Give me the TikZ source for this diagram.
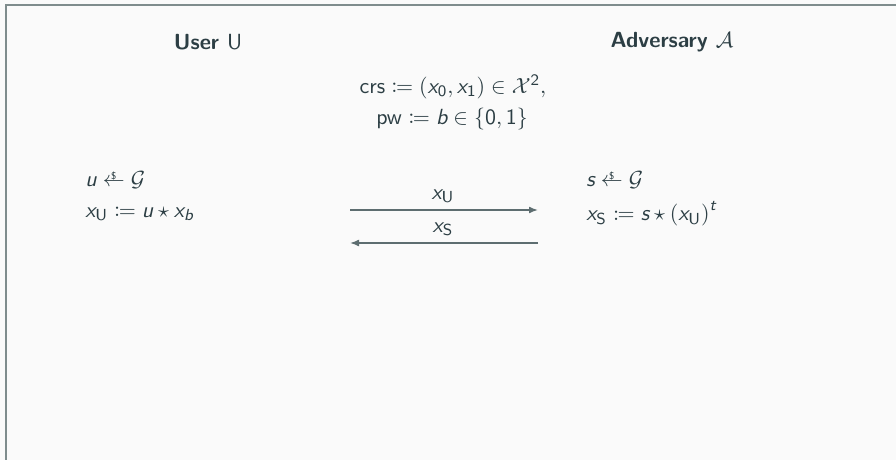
\documentclass[tikz,border=0pt,11pt]{standalone}
\usepackage{amsmath,amssymb,mathtools}
\usetikzlibrary{arrows.meta}
\definecolor{bg}{HTML}{FAFAFA}
\definecolor{fr}{HTML}{7F8C8D}
\definecolor{tx}{HTML}{2C3E44}
\definecolor{ar}{HTML}{5D6D70}
\newcommand{\vx}[1]{\text{\sffamily\itshape #1}}
\newcommand{\samp}{\mathrel{\ooalign{$\leftarrow$\cr\hidewidth\raisebox{0.75ex}{\fontsize{5}{5}\selectfont\$}\hidewidth\cr}}}
\begin{document}
\begin{tikzpicture}[x=0.5pt,y=-0.5pt,
  every node/.style={text=tx, font=\sffamily, inner sep=0pt},
  lbl/.style={anchor=west},
  msg/.style={draw=ar, line width=0.75pt, -{Latex[length=4.5pt,width=3.5pt]}}]
\useasboundingbox (0,0) rectangle (896,460);
\fill[bg] (0,0) rectangle (896,460);
\draw[fr, line width=1pt] (5.5,470) -- (5.5,5.5) -- (910,5.5);

\node (user) at (208,42) {\bfseries User \mdseries$\mathsf{U}$};
\node (adv) at (672,42) {\bfseries Adversary \mdseries$\mathcal{A}$};

\node (crs) at (453,87) {$\mathsf{crs} \coloneqq (\vx{x}_{\mathsf0}, \vx{x}_{\mathsf1}) \in \mathcal{X}^{\mathsf2},$};
\node (pw) at (452,119) {$\mathsf{pw} \coloneqq \vx{b} \in \{\mathsf{0},\mathsf{1}\}$};

\node[lbl] (u1) at (85,180) {$\vx{u} \samp \mathcal{G}$};
\node[lbl] (u2) at (85,214) {$\vx{x}_{\mathsf U} \coloneqq \vx{u} \star \vx{x}_{\vx{b}}$};

\node[lbl] (s1) at (586,180) {$\vx{s} \samp \mathcal{G}$};
\node[lbl] (s2) at (586,214) {$\vx{x}_{\mathsf S} \coloneqq \vx{s} \star \left(\vx{x}_{\mathsf U}\right)^{\vx{t}}$};

\coordinate (a1s) at (350,210);
\coordinate (a1e) at (538,210);
\coordinate (a2s) at (538,243);
\coordinate (a2e) at (350,243);
\draw[msg] (a1s) -- (a1e);
\draw[msg] (a2s) -- (a2e);
\node (lu) at (443,196) {$\vx{x}_{\mathsf U}$};
\node (ls) at (443,229) {$\vx{x}_{\mathsf S}$};
\end{tikzpicture}
\end{document}
